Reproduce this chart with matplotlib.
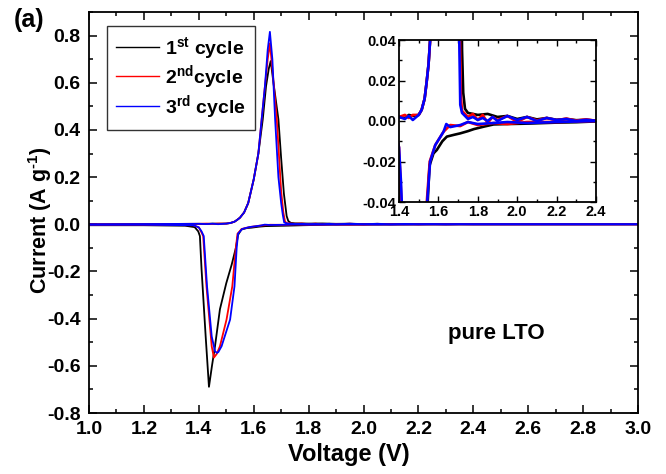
import matplotlib
matplotlib.use("Agg")
import matplotlib.pyplot as plt
from matplotlib.ticker import MultipleLocator, FormatStrFormatter

plt.rcParams['font.family'] = ['Liberation Sans', 'DejaVu Sans']
plt.rcParams['font.weight'] = 'bold'
plt.rcParams['axes.unicode_minus'] = False
plt.rcParams['mathtext.fontset'] = 'custom'
plt.rcParams['mathtext.rm'] = 'Liberation Sans:bold'
plt.rcParams['mathtext.it'] = 'Liberation Sans:bold'
plt.rcParams['mathtext.bf'] = 'Liberation Sans:bold'
plt.rcParams['mathtext.default'] = 'regular'

# ---------------- data ----------------
labels = [r'1$^{st}$ cycle', r'2$^{nd}$cycle', r'3$^{rd}$ cycle']
colors = ['black', 'red', 'blue']

# anodic (upper) branches
v_up_1 = [1.00, 1.20, 1.40, 1.43, 1.45, 1.47, 1.50, 1.515, 1.53, 1.54, 1.55, 1.558, 1.565,
          1.58, 1.60, 1.617, 1.633, 1.645, 1.655, 1.662, 1.672, 1.69, 1.70, 1.71, 1.72,
          1.726, 1.735, 1.75, 1.80, 1.85, 1.90, 1.95, 2.00, 2.05, 2.10, 2.15, 2.20, 2.25,
          2.30, 2.35, 2.40, 3.00]
i_up_1 = [0.000, 0.001, 0.002, 0.0015, 0.003, 0.0025, 0.003, 0.0055, 0.011, 0.019, 0.028, 0.040, 0.050,
          0.09, 0.19, 0.30, 0.445, 0.586, 0.66, 0.692, 0.60, 0.445, 0.28, 0.13, 0.035,
          0.014, 0.006, 0.004, 0.003, 0.0035, 0.002, 0.0025, 0.001, 0.002, 0.0008, 0.0015, 0.0006, 0.001,
          0.0004, 0.0006, 0.0002, 0.0]

v_up_2 = [1.00, 1.20, 1.40, 1.43, 1.45, 1.47, 1.50, 1.515, 1.53, 1.54, 1.55, 1.558, 1.565,
          1.58, 1.60, 1.617, 1.629, 1.641, 1.651, 1.659, 1.668, 1.684, 1.70, 1.708, 1.714,
          1.72, 1.75, 1.775, 1.80, 1.825, 1.85, 1.875, 1.90, 1.95, 2.00, 2.05, 2.10, 2.15,
          2.20, 2.25, 2.30, 2.35, 2.40, 3.00]
i_up_2 = [0.000, 0.001, 0.002, 0.003, 0.0015, 0.003, 0.003, 0.0055, 0.011, 0.019, 0.028, 0.040, 0.050,
          0.09, 0.19, 0.30, 0.445, 0.586, 0.70, 0.767, 0.66, 0.445, 0.14, 0.05, 0.012,
          0.005, 0.002, 0.0035, 0.0005, 0.003, -0.001, 0.002, 0.0005, 0.0025, -0.0005, 0.002, 0.0003, 0.0015,
          0.0004, 0.0012, 0.0002, 0.0008, 0.0001, 0.0]

v_up_3 = [1.00, 1.20, 1.40, 1.43, 1.45, 1.47, 1.50, 1.515, 1.53, 1.54, 1.55, 1.558, 1.565,
          1.58, 1.60, 1.617, 1.629, 1.641, 1.651, 1.659, 1.668, 1.678, 1.69, 1.70, 1.706,
          1.711, 1.72, 1.75, 1.775, 1.80, 1.825, 1.85, 1.875, 1.90, 1.95, 2.00, 2.05, 2.10,
          2.15, 2.20, 2.25, 2.30, 2.35, 2.40, 3.00]
i_up_3 = [0.000, 0.001, 0.002, 0.001, 0.0025, 0.0005, 0.003, 0.0055, 0.011, 0.019, 0.028, 0.040, 0.050,
          0.09, 0.19, 0.30, 0.445, 0.586, 0.74, 0.816, 0.70, 0.445, 0.20, 0.09, 0.04,
          0.008, 0.004, 0.001, 0.002, 0.0005, 0.0015, 0.0, 0.002, 0.0, 0.0025, 0.0005, 0.002, 0.0,
          0.0015, 0.0005, 0.001, 0.0, 0.0006, 0.0001, 0.0]

# cathodic (lower) branches
v_dn_1 = [1.00, 1.20, 1.35, 1.385, 1.398, 1.404, 1.41, 1.425, 1.437, 1.448, 1.459, 1.477,
          1.50, 1.52, 1.535, 1.543, 1.555, 1.575, 1.592, 1.62, 1.643, 1.68, 1.711, 1.75,
          1.78, 1.83, 1.88, 1.95, 2.05, 2.20, 2.30, 2.40, 3.00]
i_dn_1 = [-0.004, -0.004, -0.006, -0.012, -0.03, -0.05, -0.19, -0.475, -0.689, -0.60, -0.517, -0.36,
          -0.25, -0.17, -0.10, -0.045, -0.022, -0.016, -0.0143, -0.010, -0.0077, -0.0068, -0.0061, -0.005,
          -0.004, -0.0028, -0.0017, -0.0015, -0.0013, -0.0008, -0.0006, -0.0002, 0.0]

v_dn_2 = [1.00, 1.20, 1.38, 1.40, 1.408, 1.416, 1.428, 1.447, 1.455, 1.465, 1.477, 1.501,
          1.522, 1.535, 1.541, 1.556, 1.584, 1.626, 1.66, 1.711, 1.75, 1.80, 1.88, 1.95,
          2.05, 2.20, 2.40, 3.00]
i_dn_2 = [-0.002, -0.002, -0.004, -0.013, -0.03, -0.05, -0.263, -0.517, -0.565, -0.55, -0.517, -0.404,
          -0.263, -0.10, -0.04, -0.02, -0.0119, -0.0053, -0.002, -0.0025, -0.0005, -0.002, -0.001, -0.0015,
          -0.0005, -0.0005, 0.0, 0.0]

v_dn_3 = [1.00, 1.20, 1.38, 1.40, 1.41, 1.418, 1.43, 1.447, 1.459, 1.466, 1.471, 1.483,
          1.514, 1.53, 1.538, 1.543, 1.558, 1.584, 1.626, 1.64, 1.66, 1.711, 1.75, 1.80,
          1.88, 1.95, 2.05, 2.20, 2.40, 3.00]
i_dn_3 = [-0.002, -0.002, -0.004, -0.013, -0.03, -0.05, -0.263, -0.475, -0.538, -0.545, -0.542, -0.517,
          -0.404, -0.263, -0.10, -0.04, -0.02, -0.0119, -0.0053, -0.0015, -0.003, -0.002, -0.0005, -0.0015,
          -0.001, -0.0005, -0.001, -0.0005, 0.0, 0.0]

ups = [(v_up_1, i_up_1), (v_up_2, i_up_2), (v_up_3, i_up_3)]
dns = [(v_dn_1, i_dn_1), (v_dn_2, i_dn_2), (v_dn_3, i_dn_3)]

x_ticks = [1.0, 1.2, 1.4, 1.6, 1.8, 2.0, 2.2, 2.4, 2.6, 2.8, 3.0]
y_ticks = [-0.8, -0.6, -0.4, -0.2, 0.0, 0.2, 0.4, 0.6, 0.8]
inset_x_ticks = [1.4, 1.6, 1.8, 2.0, 2.2, 2.4]
inset_y_ticks = [-0.04, -0.02, 0.00, 0.02, 0.04]

# ---------------- figure ----------------
fig = plt.figure(figsize=(6.66, 4.74), dpi=100)
ax = fig.add_axes([89/666, 1-413/474, 549/666, 401/474])

for (vu, iu), (vd, idn), c, lab in zip(ups, dns, colors, labels):
    ax.plot(vu, iu, color=c, lw=1.3, label=lab)
    ax.plot(vd, idn, color=c, lw=1.3)

ax.set_xlim(1.0, 3.0)
ax.set_ylim(-0.8, 0.9)
ax.set_xticks(x_ticks)
ax.set_yticks(y_ticks)
ax.xaxis.set_minor_locator(MultipleLocator(0.1))
ax.yaxis.set_minor_locator(MultipleLocator(0.1))
ax.xaxis.set_major_formatter(FormatStrFormatter('%.1f'))
ax.yaxis.set_major_formatter(FormatStrFormatter('%.1f'))
ax.tick_params(which='both', direction='in', top=True, right=True, width=1.1)
ax.tick_params(which='major', length=5.5, labelsize=14, pad=6)
ax.tick_params(which='minor', length=3)
for lbl in ax.get_xticklabels() + ax.get_yticklabels():
    lbl.set_fontweight('bold')
for s in ax.spines.values():
    s.set_linewidth(1.3)

handles = [plt.Line2D([], [], color=c, lw=1.0) for c in colors]
leg = ax.legend(handles, labels, loc='upper left', bbox_to_anchor=(0.033, 0.965),
                borderaxespad=0, frameon=True, fancybox=False, edgecolor='black',
                handlelength=2.2, handletextpad=0.35, labelspacing=0.12,
                borderpad=0.45, prop={'weight': 'bold', 'size': 14})
leg.get_frame().set_linewidth(1.0)

fig.text(349/666, 1-455/474, 'Voltage (V)', ha='center', va='center',
         fontsize=17, fontweight='bold')
fig.text(40/666, 1-220/474, r'Current (A g$^{\text{-1}}$)', ha='center', va='center',
         rotation=90, fontsize=15.5, fontweight='bold')
fig.text(496/666, 1-334/474, 'pure LTO', ha='center', va='center',
         fontsize=16, fontweight='bold')
fig.text(29/666, 1-20/474, '(a)', ha='center', va='center',
         fontsize=18, fontweight='bold')

# ---------------- inset ----------------
axi = fig.add_axes([399/666, 1-202/474, 197/666, 162/474])
for (vu, iu), (vd, idn), c in zip(ups, dns, colors):
    axi.plot(vu, iu, color=c, lw=1.9)
    axi.plot(vd, idn, color=c, lw=1.9)
axi.set_xlim(1.4, 2.4)
axi.set_ylim(-0.04, 0.04)
axi.set_xticks(inset_x_ticks)
axi.set_yticks(inset_y_ticks)
axi.xaxis.set_minor_locator(MultipleLocator(0.1))
axi.yaxis.set_minor_locator(MultipleLocator(0.01))
axi.xaxis.set_major_formatter(FormatStrFormatter('%.1f'))
axi.yaxis.set_major_formatter(FormatStrFormatter('%.2f'))
axi.tick_params(which='both', direction='in', top=True, right=True, width=1.0)
axi.tick_params(which='major', length=4, labelsize=10.5, pad=2)
axi.tick_params(which='minor', length=2)
for lbl in axi.get_xticklabels() + axi.get_yticklabels():
    lbl.set_fontweight('bold')
for s in axi.spines.values():
    s.set_linewidth(1.3)

fig.savefig('out.png', dpi=100)
